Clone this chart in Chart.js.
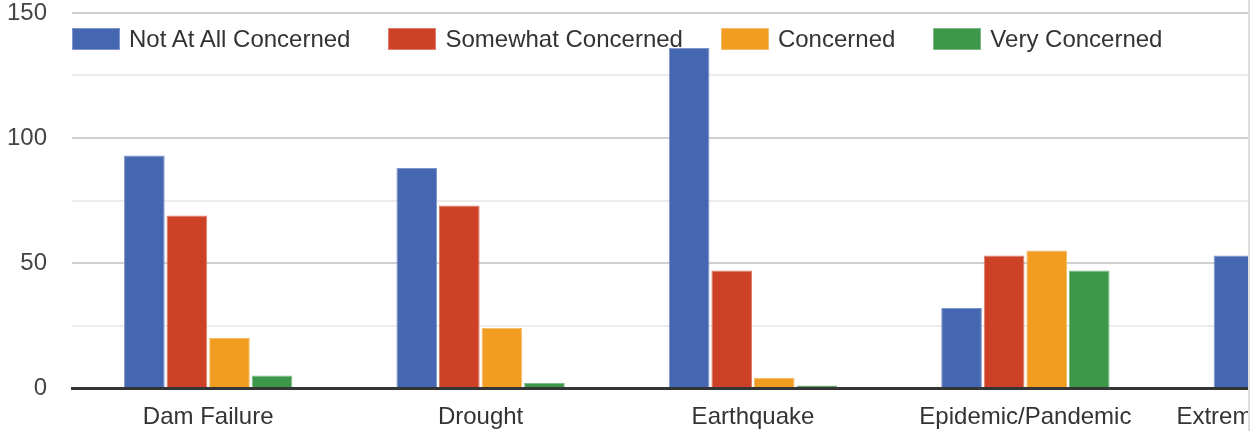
<!DOCTYPE html>
<html>
<head>
<meta charset="utf-8">
<script src="https://cdn.jsdelivr.net/npm/chart.js@4/dist/chart.umd.min.js"></script>
<style>
  html, body { margin: 0; padding: 0; background: #fff; }
  #wrap { position: relative; width: 1248px; height: 431px; overflow: hidden; border-right: 2px solid #dadce0; }
  #plot { position: absolute; left: 0; top: 0; }
  #legend { position: absolute; left: 72px; top: 28px; display: flex; align-items: center;
            font-family: "Liberation Sans", Arial, sans-serif; font-size: 24px; line-height: 22px; color: #333; }
  .item { display: flex; align-items: center; margin-right: 38px; }
  .box { width: 48px; height: 22px; margin-right: 9px; box-sizing: border-box; }
  .txt { white-space: nowrap; text-shadow: 0 0 2px #fff, 0 0 2px #fff, 0 0 2px #fff; }
</style>
</head>
<body>
<div id="wrap">
  <canvas id="plot" width="1434" height="431"></canvas>
  <div id="legend"></div>
</div>
<script>
// ---- data ----
const categories = ['Dam Failure', 'Drought', 'Earthquake', 'Epidemic/Pandemic', 'Extreme Temperatures'];
const seriesNames = ['Not At All Concerned', 'Somewhat Concerned', 'Concerned', 'Very Concerned'];
const notAtAllConcerned = [93, 88, 136, 32, 53];
const somewhatConcerned = [69, 73, 47, 53, null];
const concerned = [20, 24, 4, 55, null];
const veryConcerned = [5, 2, 1, 47, null];
const yMajorTicks = [0, 50, 100, 150];

// ---- styles ----
const fills = ['#4566b0', '#cd4226', '#f09d22', '#3d9749'];
const edges = ['#7f94c8', '#dc7d69', '#f4bd6e', '#7fb889'];
const seriesValues = [notAtAllConcerned, somewhatConcerned, concerned, veryConcerned];

const datasets = seriesNames.map((name, i) => ({
  label: name,
  data: seriesValues[i],
  backgroundColor: fills[i],
  borderColor: edges[i],
  borderWidth: 1,
  categoryPercentage: 0.625,
  barPercentage: 0.955
}));

// HTML legend (real text)
const legend = document.getElementById('legend');
seriesNames.forEach((name, i) => {
  const item = document.createElement('div');
  item.className = 'item';
  const box = document.createElement('div');
  box.className = 'box';
  box.style.background = fills[i];
  box.style.border = '1px solid ' + edges[i];
  const txt = document.createElement('span');
  txt.className = 'txt';
  txt.textContent = name;
  item.appendChild(box);
  item.appendChild(txt);
  legend.appendChild(item);
});

const font = '"Liberation Sans", Arial, sans-serif';

new Chart(document.getElementById('plot'), {
  type: 'bar',
  data: { labels: categories, datasets },
  options: {
    responsive: false,
    animation: false,
    devicePixelRatio: 1,
    layout: { padding: { top: 13, left: 0, right: 0, bottom: 0 } },
    plugins: {
      legend: { display: false },
      tooltip: { enabled: false }
    },
    scales: {
      x: {
        afterFit(scale) { scale.height = 43; scale.paddingLeft = 0; scale.paddingRight = 0; },
        grid: { display: false, drawTicks: false },
        border: { display: true, color: '#353535', width: 3, z: 1 },
        ticks: {
          autoSkip: false, maxRotation: 0, minRotation: 0,
          padding: 15,
          color: '#333',
          font: { family: font, size: 24 }
        }
      },
      y: {
        min: 0, max: 150,
        afterFit(scale) { scale.width = 72; scale.paddingTop = 0; scale.paddingBottom = 0; },
        border: { display: false },
        grid: {
          drawTicks: false,
          lineWidth: 2,
          color: (ctx) => (ctx.tick && yMajorTicks.includes(ctx.tick.value)) ? '#cdcfd2' : '#ececec'
        },
        ticks: {
          stepSize: 25,
          padding: 25,
          color: '#444',
          font: { family: font, size: 24, lineHeight: 1 },
          callback: (v) => yMajorTicks.includes(v) ? String(v) : ''
        }
      }
    }
  }
});
</script>
</body>
</html>
